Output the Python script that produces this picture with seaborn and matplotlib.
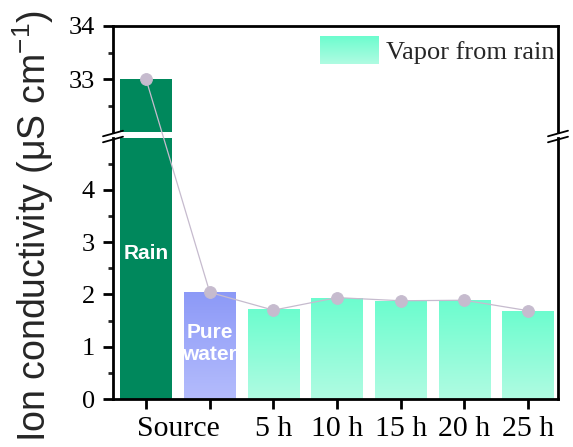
import numpy as np
import pandas as pd
import matplotlib
matplotlib.use("Agg")
import matplotlib.pyplot as plt
import seaborn as sns
from matplotlib.colors import LinearSegmentedColormap
from matplotlib.lines import Line2D
from matplotlib.legend_handler import HandlerBase
from matplotlib.image import BboxImage
from matplotlib.transforms import Bbox, TransformedBbox
from matplotlib.patches import Patch

# ---------------- data ----------------
categories = ["Source", "Pure water", "5 h", "10 h", "15 h", "20 h", "25 h"]
tick_labels = ["", "", "5 h", "10 h", "15 h", "20 h", "25 h"]
group_label = "Source"          # spans the Rain and Pure water bars
bar_values = [33.0, 2.05, 1.72, 1.94, 1.87, 1.89, 1.69]
point_values = [33.0, 2.04, 1.70, 1.94, 1.88, 1.89, 1.69]
kinds = ["rain", "pure", "vapor", "vapor", "vapor", "vapor", "vapor"]
legend_label = "Vapor from rain"

# ---------------- style ----------------
sns.set_theme(style="ticks")
plt.rcParams["font.family"] = ["Liberation Serif", "DejaVu Serif"]
plt.rcParams["mathtext.fontset"] = "custom"
plt.rcParams["mathtext.rm"] = "Liberation Sans"
plt.rcParams["mathtext.it"] = "Liberation Sans:italic"

rain_col = "#00885c"
pure_top, pure_bot = "#8c99f7", "#b4bcfc"
vap_top, vap_bot = "#6cfdce", "#b0fbe2"
line_col = "#c6bbce"
solid = {"rain": rain_col, "pure": "#a0aaf9", "vapor": "#8efcd8"}
cmaps = {
    "pure": LinearSegmentedColormap.from_list("pure", [pure_bot, pure_top]),
    "vapor": LinearSegmentedColormap.from_list("vap", [vap_bot, vap_top]),
}
grad = np.linspace(0, 1, 256).reshape(-1, 1)

df = pd.DataFrame({"cat": categories, "val": bar_values, "pt": point_values, "kind": kinds})

W, H = 573, 447
fig = plt.figure(figsize=(W / 100, H / 100), dpi=100)
left_px, right_px = 113, 558
top_top, top_bot = 26, 131.7
bot_top, bot_bot = 137.7, 399
ax_top = fig.add_axes([left_px / W, 1 - top_bot / H, (right_px - left_px) / W, (top_bot - top_top) / H])
ax_bot = fig.add_axes([left_px / W, 1 - bot_bot / H, (right_px - left_px) / W, (bot_bot - bot_top) / H])

for ax in (ax_top, ax_bot):
    sns.barplot(data=df, x="cat", y="val", hue="cat", palette=[solid[k] for k in kinds],
                legend=False, width=0.81, saturation=1, edgecolor="none", linewidth=0, ax=ax)
    for p, k in zip(ax.patches, kinds):
        if k in cmaps:
            x0, w, h = p.get_x(), p.get_width(), p.get_height()
            im = ax.imshow(grad, extent=[x0, x0 + w, 0, h], origin="lower", cmap=cmaps[k],
                           aspect="auto", interpolation="bicubic", zorder=p.get_zorder() + 0.1)
            im.set_clip_path(p)
    ax.set_xlim(-0.52, 6.47)
    ax.set_xlabel("")
    ax.set_ylabel("")
    for s in ax.spines.values():
        s.set_linewidth(2.0)
        s.set_color("black")
    ax.tick_params(axis="y", which="major", direction="out", length=7, width=2.0,
                   labelsize=19, pad=6, colors="black", right=False)
    ax.tick_params(axis="y", which="minor", direction="out", length=3.6, width=2.0, right=False, left=True)

ax_top.set_ylim(32.02, 34)
ax_top.set_yticks([33, 34])
ax_top.set_yticks([32.5, 33.5], minor=True)
ax_top.spines["bottom"].set_visible(False)
ax_top.tick_params(axis="x", which="both", bottom=False, labelbottom=False, top=False)

ax_bot.set_ylim(0, 5.0)
ax_bot.set_yticks([0, 1, 2, 3, 4])
ax_bot.set_yticks([0.5, 1.5, 2.5, 3.5, 4.5], minor=True)
ax_bot.spines["top"].set_visible(False)
ax_bot.set_xticks(range(len(categories)))
ax_bot.set_xticklabels(tick_labels)
ax_bot.set_xticks([0.5], minor=True)
ax_bot.set_xticklabels([group_label], minor=True)
ax_bot.tick_params(axis="x", which="major", direction="out", length=7, width=2.0,
                   labelsize=21.5, pad=5.5, colors="black")
ax_bot.tick_params(axis="x", which="minor", length=0, labelsize=21.5, pad=12.5, colors="black")

# connecting line drawn across the broken axis: map each value to display space
# through the axis that shows it, then back into the lower axis' data units
def to_lower(v):
    src = ax_top if v >= ax_top.get_ylim()[0] else ax_bot
    disp = src.transData.transform((0, v))
    return ax_bot.transData.inverted().transform(disp)[1]

df["pt_lower"] = [to_lower(v) for v in point_values]
sns.pointplot(data=df, x="cat", y="pt_lower", color=line_col, markers="o", markersize=8.5,
              linewidth=0.9, errorbar=None, ax=ax_bot)
for art in list(ax_bot.lines) + list(ax_bot.collections):
    art.set_zorder(6)
    art.set_clip_on(False)
ax_bot.set_ylim(0, 5.0)
ax_bot.set_xlim(-0.52, 6.47)
ax_bot.set_xlabel("")
ax_bot.set_ylabel("")

# in-bar labels
ax_bot.text(0, 2.79, "Rain", color="white", fontweight="bold", family="Liberation Sans",
            fontsize=15, ha="center", va="center", zorder=7)
ax_bot.text(1, 1.06, "Pure\nwater", color="white", fontweight="bold", family="Liberation Sans",
            fontsize=15, ha="center", va="center", linespacing=1.25, zorder=7)

# y label
fig.text(33 / W, 1 - 226 / H, "Ion conductivity (\u03bcS cm$^{-1}$)", rotation=90,
         family="Liberation Sans", fontsize=27, ha="center", va="center")

# break marks
def mark(xc, yc):
    dx, dy = 10, 2.8
    fig.add_artist(Line2D([(xc - dx) / W, (xc + dx) / W], [1 - (yc + dy) / H, 1 - (yc - dy) / H],
                          transform=fig.transFigure, color="black", lw=1.3, zorder=1))
for xc in (left_px, right_px):
    mark(xc, 133.5)
    mark(xc, 139.5)

# legend with gradient handle
class GradHandler(HandlerBase):
    def create_artists(self, legend, orig_handle, xdescent, ydescent, width, height, fontsize, trans):
        bb = TransformedBbox(Bbox.from_bounds(-xdescent, -ydescent, width, height), trans)
        img = BboxImage(bb, cmap=cmaps["vapor"], interpolation="bicubic", origin="lower")
        img.set_data(grad)
        return [img]

h = Patch(facecolor=solid["vapor"])
ax_top.legend([h], [legend_label], handler_map={Patch: GradHandler()}, loc="upper left",
              bbox_to_anchor=(320 / W, 1 - 36 / H), bbox_transform=fig.transFigure,
              frameon=False, fontsize=19, handlelength=2.2, handleheight=1.25,
              handletextpad=0.3, borderpad=0, borderaxespad=0)

fig.savefig("out.png", dpi=100)
